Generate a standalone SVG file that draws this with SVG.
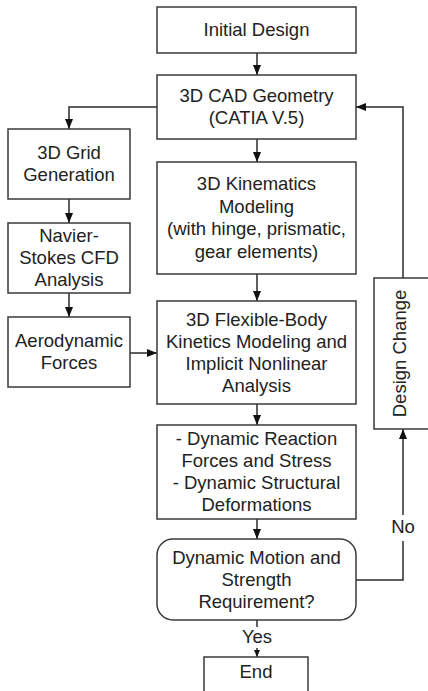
<svg xmlns="http://www.w3.org/2000/svg" width="428" height="691" viewBox="0 0 428 691">
<defs>
<style>
.box{fill:#fff;stroke:#3a3a3a;stroke-width:1.5}
.t{font-family:"Liberation Sans",Arial,sans-serif;font-size:18.5px;fill:#222;text-anchor:middle}
.c{fill:none;stroke:#2a2a2a;stroke-width:1.5}
</style>
<marker id="ah" markerUnits="userSpaceOnUse" markerWidth="10" markerHeight="8" refX="10" refY="4" orient="auto"><path d="M0,0 L10,4 L0,8 z" fill="#111"/></marker>
<marker id="ahs" markerUnits="userSpaceOnUse" markerWidth="7" markerHeight="6" refX="7" refY="3" orient="auto"><path d="M0,0 L7,3 L0,6 z" fill="#111"/></marker>
</defs>
<rect width="428" height="691" fill="#fff"/>
<g id="connectors">
<path class="c" d="M257,53 V75" marker-end="url(#ah)"/>
<path class="c" d="M157,107 H69 V129" marker-end="url(#ah)"/>
<path class="c" d="M69,199 V223" marker-end="url(#ah)"/>
<path class="c" d="M69,293 V317" marker-end="url(#ah)"/>
<path class="c" d="M130,353 H157" marker-end="url(#ah)"/>
<path class="c" d="M257,139 V162" marker-end="url(#ah)"/>
<path class="c" d="M257,274 V301" marker-end="url(#ah)"/>
<path class="c" d="M257,404 V425" marker-end="url(#ah)"/>
<path class="c" d="M257,519 V539" marker-end="url(#ah)"/>
<path class="c" d="M257,620 V627"/>
<path class="c" d="M257,648 V657" marker-end="url(#ahs)"/>
<path class="c" d="M356,580 H403 V541"/>
<path class="c" d="M403,515 V429" marker-end="url(#ah)"/>
<path class="c" d="M403,278 V107 H356" marker-end="url(#ah)"/>
<text class="t" x="257" y="643">Yes</text>
<text class="t" x="403" y="533">No</text>
</g>
<g id="initial"><rect class="box" x="157" y="7" width="199" height="46"/><text class="t" x="256.5" y="36">Initial Design</text></g>
<g id="cad"><rect class="box" x="157" y="75" width="199" height="64"/><text class="t" x="256.5" y="102">3D CAD Geometry</text><text class="t" x="256.5" y="124">(CATIA V.5)</text></g>
<g id="grid"><rect class="box" x="8" y="129" width="122" height="70"/><text class="t" x="69" y="159">3D Grid</text><text class="t" x="69" y="181">Generation</text></g>
<g id="navier"><rect class="box" x="8" y="223" width="122" height="70"/><text class="t" x="69" y="242">Navier-</text><text class="t" x="69" y="264">Stokes CFD</text><text class="t" x="69" y="286">Analysis</text></g>
<g id="aero"><rect class="box" x="8" y="317" width="122" height="70"/><text class="t" x="69" y="347">Aerodynamic</text><text class="t" x="69" y="369">Forces</text></g>
<g id="kinematics"><rect class="box" x="157" y="162" width="199" height="112"/><text class="t" x="256.5" y="190">3D Kinematics</text><text class="t" x="256.5" y="212.5">Modeling</text><text class="t" x="256.5" y="235">(with hinge, prismatic,</text><text class="t" x="256.5" y="257.5">gear elements)</text></g>
<g id="flex"><rect class="box" x="157" y="301" width="199" height="103"/><text class="t" x="256.5" y="326">3D Flexible-Body</text><text class="t" x="256.5" y="348">Kinetics Modeling and</text><text class="t" x="256.5" y="370">Implicit Nonlinear</text><text class="t" x="256.5" y="392">Analysis</text></g>
<g id="reaction"><rect class="box" x="157" y="425" width="199" height="94"/><text class="t" x="256.5" y="445">- Dynamic Reaction</text><text class="t" x="256.5" y="467">Forces and Stress</text><text class="t" x="256.5" y="489">- Dynamic Structural</text><text class="t" x="256.5" y="511">Deformations</text></g>
<g id="decision"><rect class="box" x="157" y="539" width="199" height="81" rx="16" ry="16"/><text class="t" x="256.5" y="563.5">Dynamic Motion and</text><text class="t" x="256.5" y="585.5">Strength</text><text class="t" x="256.5" y="607.5">Requirement?</text></g>
<g id="design-change"><rect class="box" x="374" y="278" width="60" height="151"/><text class="t" transform="translate(406,353.5) rotate(-90)" x="0" y="0">Design Change</text></g>
<g id="end"><rect class="box" x="204" y="657" width="104" height="50"/><text class="t" x="256" y="678">End</text></g>
</svg>
